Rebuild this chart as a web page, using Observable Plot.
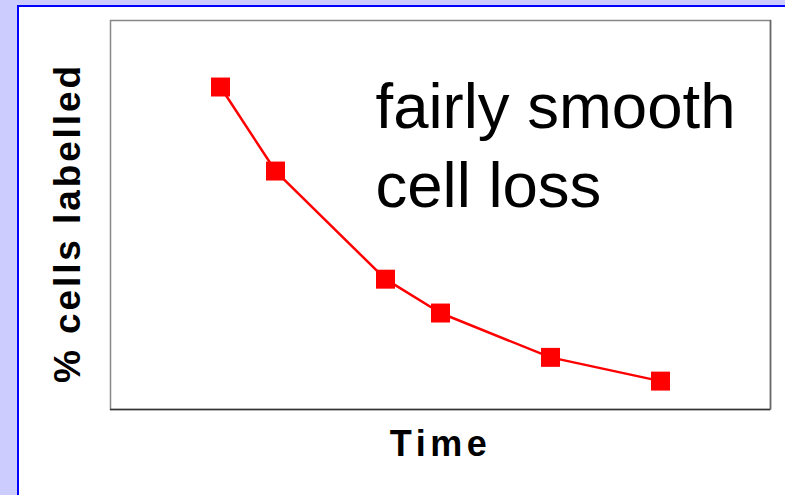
<!DOCTYPE html>
<html>
<head>
<meta charset="utf-8">
<script src="https://cdn.jsdelivr.net/npm/d3@7"></script>
<script src="https://cdn.jsdelivr.net/npm/@observablehq/plot@0.6"></script>
<style>
  html, body { margin: 0; padding: 0; }
  body { width: 785px; height: 495px; background: #ccccff; position: relative; overflow: hidden; font-family: "Liberation Sans", Arial, sans-serif; }
  #panel { position: absolute; left: 17px; top: 5px; width: 790px; height: 520px; background: #fff; border: 2px solid #0000ff; }
  #chart { position: absolute; left: 0; top: 0; }
  #chart svg { background: transparent; }
</style>
</head>
<body>
<div id="panel"></div>
<div id="chart"></div>
<script>
const times = [1, 2, 4, 5, 7, 9];
const labelled = [82.9, 61.3, 33.5, 24.8, 13.4, 7.3];
const yLabel = "% cells labelled";
const xLabel = "Time";
const note = "fairly smooth\ncell loss";

const data = times.map((t, i) => ({time: t, value: labelled[i]}));

const chart = Plot.plot({
  width: 785,
  height: 495,
  marginLeft: 110,
  marginRight: 15,
  marginTop: 20,
  marginBottom: 86,
  style: {background: "transparent", fontFamily: "'Liberation Sans', Arial, sans-serif", overflow: "visible"},
  x: {domain: [-1, 11], axis: null},
  y: {domain: [0, 100], axis: null},
  marks: [
    Plot.frame({stroke: "#888", strokeWidth: 1.5}),
    Plot.ruleY([0], {stroke: "#333", strokeWidth: 1.5}),
    Plot.ruleX([11], {stroke: "#666", strokeWidth: 1.5}),
    Plot.line(data, {x: "time", y: "value", stroke: "#ff0000", strokeWidth: 2.5}),
    Plot.dot(data, {x: "time", y: "value", symbol: "square", r: 10.7, fill: "#ff0000", stroke: "none"}),
    Plot.text([yLabel], {frameAnchor: "left", dx: -42.5, dy: 8, rotate: -90, fontSize: 37, fontWeight: "bold", fill: "#000", textAnchor: "middle", lineAnchor: "middle"}),
    Plot.text([xLabel], {frameAnchor: "bottom", dx: 0, dy: 35, fontSize: 36, fontWeight: "bold", fill: "#000", textAnchor: "middle", lineAnchor: "middle"}),
    Plot.text([note], {frameAnchor: "top-left", dx: 265, dy: 51, fontSize: 63.5, fill: "#000", textAnchor: "start", lineAnchor: "top", lineHeight: 1.244})
  ]
});

document.getElementById("chart").appendChild(chart);
d3.select(chart).selectAll("text").each(function() {
  const t = this.textContent;
  if (t === yLabel) this.setAttribute("letter-spacing", "2.9");
  if (t === xLabel) this.setAttribute("letter-spacing", "4.5");
});
</script>
</body>
</html>
